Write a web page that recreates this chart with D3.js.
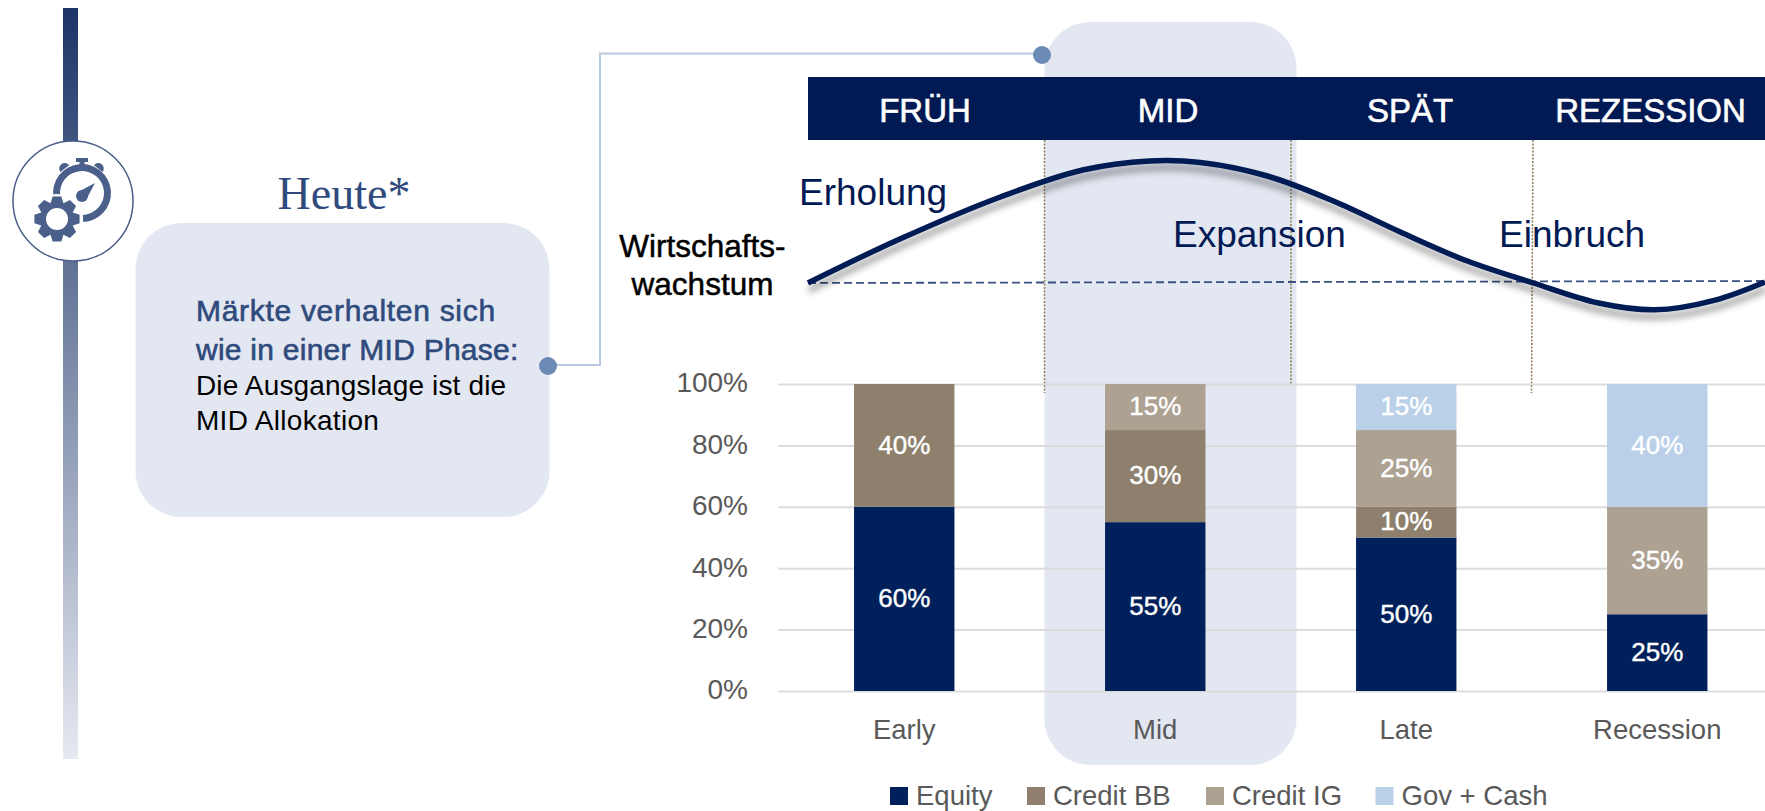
<!DOCTYPE html>
<html lang="de">
<head>
<meta charset="utf-8">
<script src="https://cdn.jsdelivr.net/npm/d3@7"></script>
<style>
  html, body { margin: 0; padding: 0; background: #fff; overflow: hidden; }
  svg { display: block; font-family: "Liberation Sans", Arial, sans-serif; }
</style>
</head>
<body>
<div id="vis"></div>
<script>
// chart values
var categories = ['Early', 'Mid', 'Late', 'Recession'];
var seriesNames = ['Equity', 'Credit BB', 'Credit IG', 'Gov + Cash'];
var equity = [60, 55, 50, 25];
var creditBB = [40, 30, 10, 0];
var creditIG = [0, 15, 25, 35];
var govCash = [0, 0, 15, 40];
var yTicks = [0, 20, 40, 60, 80, 100];

var phases = ['FRÜH', 'MID', 'SPÄT', 'REZESSION'];
// growth curve: position along the band (%), growth (peak = 100)
var cycleT = [0, 9.6, 20.1, 28.7, 35.7, 41, 48, 54.9, 61.9, 68.9, 75.8, 82.6, 88.5, 94.8, 100];
var cycleG = [0, 36, 70.5, 92.6, 100, 98.8, 87.7, 67.2, 41.8, 18, 0, -16.4, -22, -14, 0.8];

var colors = ['#00205b', '#8e806c', '#ada192', '#b9d0e8'];
var navy = '#021a54';
var slate = '#2f4a7c';
var pale = '#e3e7f1';

var width = 1765, height = 811;
var svg = d3.select('#vis').append('svg')
    .attr('width', width)
    .attr('height', height)
    .attr('viewBox', '0 0 ' + width + ' ' + height);

var defs = svg.append('defs');
var grad = defs.append('linearGradient')
    .attr('id', 'sidebar')
    .attr('x1', 0).attr('x2', 0).attr('y1', 0).attr('y2', 1);
grad.append('stop').attr('offset', '0%').attr('stop-color', '#1c3567');
grad.append('stop').attr('offset', '100%').attr('stop-color', '#e6e9f1');

var shadow = defs.append('filter')
    .attr('id', 'curveShadow')
    .attr('x', '-5%').attr('y', '-20%').attr('width', '110%').attr('height', '150%');
shadow.append('feDropShadow')
    .attr('dx', 1).attr('dy', 7).attr('stdDeviation', 3.5)
    .attr('flood-color', '#000').attr('flood-opacity', 0.4);

// left side: bar, icon, text box
svg.append('rect')
    .attr('x', 63).attr('y', 8).attr('width', 15).attr('height', 751)
    .attr('fill', 'url(#sidebar)');

var icon = svg.append('g').attr('transform', 'translate(73,201)');
icon.append('circle')
    .attr('r', 60)
    .attr('fill', '#fff')
    .attr('stroke', '#4a5f8a')
    .attr('stroke-width', 1.5);

var iconColor = '#4a5f8a';
// stopwatch ring with the gap where the gear sits
icon.append('path')
    .attr('transform', 'translate(9,-8)')
    .attr('d', d3.arc()
        .innerRadius(22).outerRadius(29)
        .startAngle(-1.72).endAngle(3.1)())
    .attr('fill', iconColor);
icon.append('rect').attr('x', 3).attr('y', -43).attr('width', 12).attr('height', 4).attr('fill', iconColor);
icon.append('rect').attr('x', 6.5).attr('y', -40).attr('width', 5).attr('height', 5).attr('fill', iconColor);
[-1, 1].forEach(function(s) {
    icon.append('path')
        .attr('transform', 'translate(' + (8.5 + s * 18) + ',-34) rotate(' + (s * 38) + ')')
        .attr('d', 'M-5.5,2 A5.5,5.5 0 0 1 5.5,2 Z')
        .attr('fill', iconColor);
});
// needle
icon.append('circle').attr('cx', 9).attr('cy', -5).attr('r', 6).attr('fill', iconColor);
icon.append('path').attr('d', 'M5,-9 L22,-18 L13,-1 Z').attr('fill', iconColor);
// gear
var gear = d3.path();
var teeth = 8;
for (var i = 0; i < teeth; i++) {
    var a = i / teeth * 2 * Math.PI;
    var w = 0.19;
    var pts = [[a - 0.39, 17], [a - w, 23], [a + w, 23], [a + 0.39, 17]];
    pts.forEach(function(p, j) {
        var px = p[1] * Math.sin(p[0]), py = -p[1] * Math.cos(p[0]);
        if (i === 0 && j === 0) gear.moveTo(px, py); else gear.lineTo(px, py);
    });
}
gear.closePath();
var gearG = icon.append('g').attr('transform', 'translate(-16,18)');
gearG.append('circle').attr('r', 25).attr('fill', '#fff');
gearG.append('path').attr('d', gear.toString()).attr('fill', iconColor);
gearG.append('circle').attr('r', 11).attr('fill', '#fff');

svg.append('text')
    .attr('x', 344).attr('y', 209)
    .attr('text-anchor', 'middle')
    .style('font-family', '"Liberation Serif", serif')
    .style('font-size', '46px')
    .attr('fill', slate)
    .text('Heute*');

svg.append('rect')
    .attr('x', 135.5).attr('y', 223).attr('width', 414).attr('height', 294)
    .attr('rx', 46).attr('ry', 46)
    .attr('fill', pale);

var boxLines = [
    {t: 'Märkte verhalten sich', y: 321, c: slate, s: 30, ls: 0.7, sw: 0.6},
    {t: 'wie in einer MID Phase:', y: 360, c: slate, s: 30, ls: 0.25, sw: 0.6},
    {t: 'Die Ausgangslage ist die', y: 395, c: '#000', s: 28, ls: 0.15, sw: 0},
    {t: 'MID Allokation', y: 430, c: '#000', s: 28, ls: 0.3, sw: 0}
];
svg.selectAll('.boxLine').data(boxLines).enter().append('text')
    .attr('class', 'boxLine')
    .attr('x', 196)
    .attr('y', function(d) { return d.y; })
    .attr('fill', function(d) { return d.c; })
    .attr('stroke', function(d) { return d.c; })
    .attr('stroke-width', function(d) { return d.sw; })
    .style('font-size', function(d) { return d.s + 'px'; })
    .style('letter-spacing', function(d) { return d.ls + 'px'; })
    .text(function(d) { return d.t; });

// mid highlight column
svg.append('rect')
    .attr('x', 1044.5).attr('y', 22).attr('width', 252).attr('height', 743)
    .attr('rx', 46).attr('ry', 46)
    .attr('fill', pale);

// connector
svg.append('path')
    .attr('d', 'M548,365 H600 V53.5 H1042')
    .attr('fill', 'none')
    .attr('stroke', '#b8c9e0')
    .attr('stroke-width', 2);
svg.append('circle').attr('cx', 548).attr('cy', 366).attr('r', 9).attr('fill', '#6b8ab5');
svg.append('circle').attr('cx', 1042).attr('cy', 55).attr('r', 9).attr('fill', '#6b8ab5');

// phase band
svg.append('rect')
    .attr('x', 808).attr('y', 77).attr('width', width - 808).attr('height', 63)
    .attr('fill', navy);
var phaseX = [925, 1168, 1410, 1650.5];
svg.selectAll('.phase').data(phases).enter().append('text')
    .attr('class', 'phase')
    .attr('x', function(d, i) { return phaseX[i]; })
    .attr('y', 122)
    .attr('text-anchor', 'middle')
    .attr('fill', '#fff')
    .attr('stroke', '#fff')
    .attr('stroke-width', 0.6)
    .style('font-size', '33px')
    .text(function(d) { return d; });

// phase separators
[[1044.5, 1044.5, 393], [1291, 1291, 385], [1533, 1531.5, 393]].forEach(function(d) {
    svg.append('line')
        .attr('x1', d[0]).attr('x2', d[1])
        .attr('y1', 140).attr('y2', d[2])
        .attr('stroke', '#8c7b55')
        .attr('stroke-width', 1.5)
        .style('stroke-dasharray', '2, 1.5');
});

// growth curve
var tScale = d3.scaleLinear().domain([0, 100]).range([808, 1765]);
var gScale = d3.scaleLinear().domain([0, 100]).range([283, 161]);

svg.append('line')
    .attr('x1', 808).attr('x2', 1765)
    .attr('y1', 283).attr('y2', 281)
    .attr('stroke', '#3a5080')
    .attr('stroke-width', 1.8)
    .style('stroke-dasharray', '8, 4');

var line = d3.line()
    .curve(d3.curveCatmullRom)
    .x(function(d) { return tScale(d); })
    .y(function(d, i) { return gScale(cycleG[i]); });
svg.append('path')
    .attr('d', line(cycleT))
    .attr('fill', 'none')
    .attr('stroke', navy)
    .attr('stroke-width', 5.5)
    .attr('filter', 'url(#curveShadow)');

var curveLabels = [
    {t: 'Erholung', x: 799, y: 205},
    {t: 'Expansion', x: 1173, y: 247},
    {t: 'Einbruch', x: 1499, y: 247}
];
svg.selectAll('.curveLabel').data(curveLabels).enter().append('text')
    .attr('class', 'curveLabel')
    .attr('x', function(d) { return d.x; })
    .attr('y', function(d) { return d.y; })
    .attr('fill', navy)
    .style('font-size', '37px')
    .text(function(d) { return d.t; });

['Wirtschafts-', 'wachstum'].forEach(function(t, i) {
    svg.append('text')
        .attr('x', 702.5).attr('y', 257 + i * 38)
        .attr('text-anchor', 'middle')
        .attr('fill', '#000')
        .attr('stroke', '#000')
        .attr('stroke-width', 0.5)
        .style('font-size', '31.5px')
        .text(t);
});

// stacked bars
var x = d3.scaleBand()
    .domain(categories)
    .range([778.75, 1782.75])
    .paddingInner(0.6)
    .paddingOuter(0.3);
var y = d3.scaleLinear().domain([0, 100]).range([691, 384]);

var yAxis = svg.append('g')
    .attr('transform', 'translate(778,0)')
    .call(d3.axisLeft(y)
        .tickValues(yTicks)
        .tickSize(-(width - 778))
        .tickPadding(30)
        .tickFormat(function(d) { return d + '%'; }));
yAxis.select('.domain').attr('stroke', 'none');
yAxis.selectAll('line').attr('stroke', '#d9d9d9').attr('stroke-width', 2).attr('stroke-opacity', 0.9);
yAxis.selectAll('text')
    .attr('fill', '#595959')
    .attr('dy', '0.28em')
    .style('font-family', '"Liberation Sans", sans-serif')
    .style('font-size', '28px');

var xAxis = svg.append('g')
    .attr('transform', 'translate(0,691)')
    .call(d3.axisBottom(x).tickSize(0).tickPadding(28));
xAxis.select('.domain').attr('stroke', 'none');
xAxis.selectAll('text')
    .attr('fill', '#595959')
    .style('font-family', '"Liberation Sans", sans-serif')
    .style('font-size', '27.5px');

var rows = categories.map(function(c, i) {
    return {cat: c, 'Equity': equity[i], 'Credit BB': creditBB[i], 'Credit IG': creditIG[i], 'Gov + Cash': govCash[i]};
});
var stacked = d3.stack().keys(seriesNames)(rows);

stacked.forEach(function(layer, k) {
    var parts = layer.filter(function(d) { return d[1] > d[0]; });
    svg.selectAll('.bar' + k).data(parts).enter().append('rect')
        .attr('class', 'bar' + k)
        .attr('x', function(d) { return x(d.data.cat); })
        .attr('width', x.bandwidth())
        .attr('y', function(d) { return y(d[1]); })
        .attr('height', function(d) { return y(d[0]) - y(d[1]); })
        .attr('fill', colors[k]);
    svg.selectAll('.val' + k).data(parts).enter().append('text')
        .attr('class', 'val' + k)
        .attr('x', function(d) { return x(d.data.cat) + x.bandwidth() / 2; })
        .attr('y', function(d) { return y((d[0] + d[1]) / 2); })
        .attr('dy', '0.32em')
        .attr('text-anchor', 'middle')
        .attr('fill', '#fff')
        .attr('stroke', '#fff')
        .attr('stroke-width', 0.4)
        .style('font-size', '26px')
        .text(function(d) { return (d[1] - d[0]) + '%'; });
});

// legend
var legendX = [890, 1027, 1206, 1375.5];
var legend = svg.selectAll('.legend').data(seriesNames).enter().append('g')
    .attr('class', 'legend')
    .attr('transform', function(d, i) { return 'translate(' + legendX[i] + ',787)'; });
legend.append('rect')
    .attr('width', 18).attr('height', 18)
    .attr('fill', function(d, i) { return colors[i]; });
legend.append('text')
    .attr('x', 26).attr('y', 18)
    .attr('fill', '#595959')
    .style('font-size', '27.5px')
    .text(function(d) { return d; });
</script>
</body>
</html>
